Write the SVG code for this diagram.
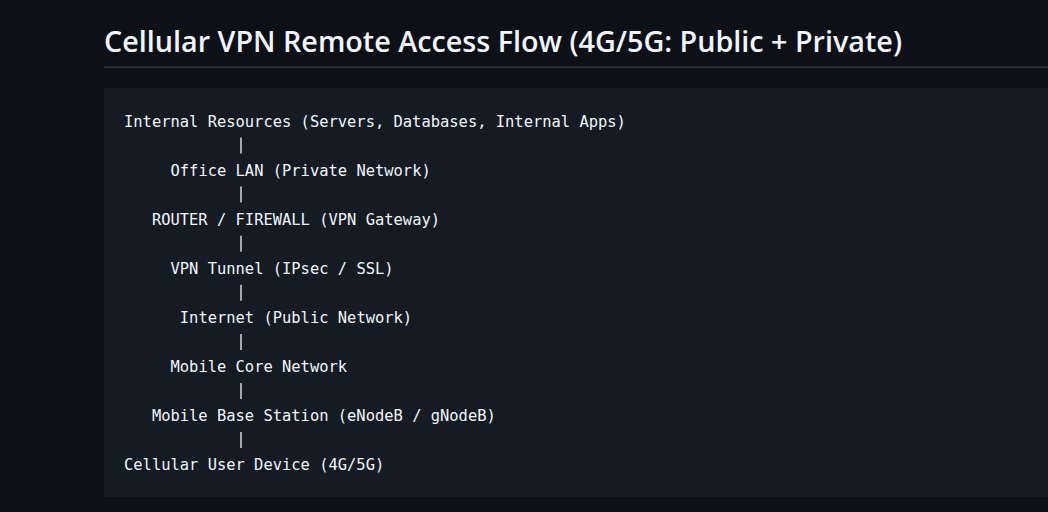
<svg xmlns="http://www.w3.org/2000/svg" width="1048" height="512" viewBox="0 0 1048 512">
<style>
.bg{fill:#0d1117}
.code{fill:#151b23}
.h{font-family:"Open Sans","Noto Sans","Liberation Sans",sans-serif;font-weight:600;font-size:28px;fill:#f0f6fc}
.t{font-family:"DejaVu Sans Mono","Liberation Mono",monospace;font-size:15.45px;fill:#f0f6fc}
.pipe{stroke:#f0f6fc;stroke-width:1.3}
</style>
<rect class="bg" x="0" y="0" width="1048" height="512"/>
<text class="h" x="104" y="52" textLength="798" lengthAdjust="spacingAndGlyphs">Cellular VPN Remote Access Flow (4G/5G: Public + Private)</text>
<rect x="104" y="66.5" width="944" height="1.2" fill="#3d444d"/>
<rect class="code" x="104" y="88" width="944" height="409"/>
<g id="internal-resources"><text class="t" x="124" y="126.5">Internal Resources (Servers, Databases, Internal Apps)</text></g>
<g id="office-lan"><text class="t" x="170.5" y="175.6">Office LAN (Private Network)</text></g>
<g id="router-firewall"><text class="t" x="151.9" y="224.7">ROUTER / FIREWALL (VPN Gateway)</text></g>
<g id="vpn-tunnel"><text class="t" x="170.5" y="273.8">VPN Tunnel (IPsec / SSL)</text></g>
<g id="internet"><text class="t" x="179.8" y="322.9">Internet (Public Network)</text></g>
<g id="mobile-core"><text class="t" x="170.5" y="372">Mobile Core Network</text></g>
<g id="base-station"><text class="t" x="151.9" y="421.1">Mobile Base Station (eNodeB / gNodeB)</text></g>
<g id="user-device"><text class="t" x="124" y="470.2">Cellular User Device (4G/5G)</text></g>
<g id="connectors">
<line class="pipe" x1="241" y1="137.5" x2="241" y2="153.5"/>
<line class="pipe" x1="241" y1="186.6" x2="241" y2="202.6"/>
<line class="pipe" x1="241" y1="235.7" x2="241" y2="251.7"/>
<line class="pipe" x1="241" y1="284.8" x2="241" y2="300.8"/>
<line class="pipe" x1="241" y1="333.9" x2="241" y2="349.9"/>
<line class="pipe" x1="241" y1="383" x2="241" y2="399"/>
<line class="pipe" x1="241" y1="432.1" x2="241" y2="448.1"/>
</g>
</svg>
